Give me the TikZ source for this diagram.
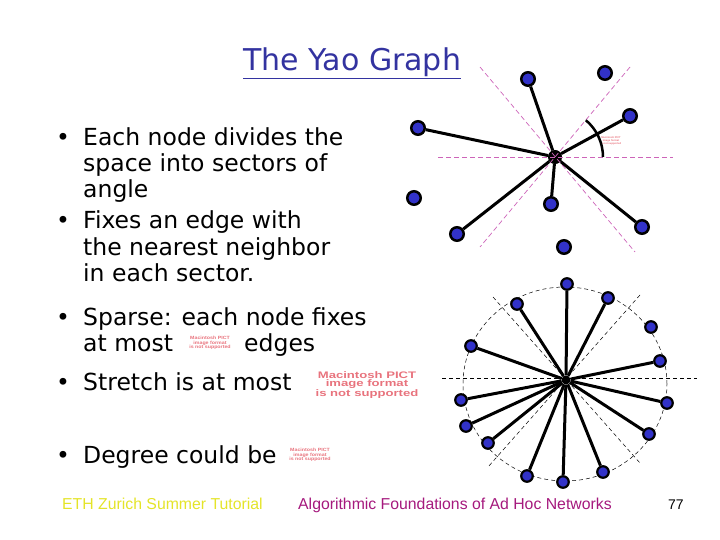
\documentclass[tikz,border=0pt]{standalone}
\usepackage{fontspec}
\setmainfont{DejaVu Sans}
\newfontfamily\footfont{Liberation Sans}
\newfontfamily\pictfont{Liberation Sans}
\definecolor{titleblue}{RGB}{51,51,160}
\definecolor{nodeblue}{RGB}{50,50,200}
\definecolor{dashpink}{RGB}{205,100,185}
\definecolor{pictpink}{RGB}{232,115,125}
\definecolor{footyellow}{RGB}{228,228,40}
\definecolor{footmag}{RGB}{165,25,125}
\pgfdeclarelayer{bg}
\pgfsetlayers{bg,main}
\begin{document}
\begin{tikzpicture}[x=1pt,y=-1pt,
  line/.style={anchor=base west, inner sep=0pt, font=\fontsize{23.5}{26}\selectfont},
  vtx/.style={circle, draw=black, line width=2.5pt, fill=nodeblue, minimum size=13.5pt, inner sep=0pt},
  svtx/.style={circle, draw=black, line width=2.2pt, fill=nodeblue, minimum size=11.5pt, inner sep=0pt},
  hub/.style={circle, draw=black, line width=1pt, fill=black, minimum size=13pt, inner sep=0pt},
  shub/.style={circle, fill=black, minimum size=9pt, inner sep=0pt},
  yedge/.style={line width=3pt},
  pinkdash/.style={dashpink, line width=0.7pt, dash pattern=on 5pt off 3pt},
  blackdash/.style={black, line width=0.5pt, dash pattern=on 4pt off 3pt},
  pict/.style={pictpink, align=center, inner sep=0pt, font=\pictfont\bfseries},
  foot/.style={anchor=base west, inner sep=0pt, font=\footfont\fontsize{15.8}{18}\selectfont}
]
\useasboundingbox (0,0) rectangle (720,540);

% title
\node[anchor=base west, inner sep=0pt, text=titleblue, font=\fontsize{30}{34}\selectfont] (title) at (243,71) {\underline{The Yao Graph}};

% bullets
\node[line] (b1) at (56,146) {•};
\node[line] (l1) at (83,146) {Each node divides the};
\node[line] (l2) at (83,172) {space into sectors of};
\node[line] (l3) at (83,198) {angle};
\node[line] (b2) at (56,229) {•};
\node[line] (l4) at (83,229) {Fixes an edge with};
\node[line] (l5) at (83,255) {the nearest neighbor};
\node[line] (l6) at (83,281) {in each sector.};
\node[line] (b3) at (56,325) {•};
\node[line] (l7) at (83,325) {Sparse: each node fixes};
\node[line] (l8) at (83,351) {at most};
\node[line] (l8b) at (244,351) {edges};
\node[line] (b4) at (56,390) {•};
\node[line] (l9) at (83,390) {Stretch is at most};
\node[line] (b5) at (56,463) {•};
\node[line] (l10) at (83,463) {Degree could be};

% placeholder texts
\node[pict, font=\pictfont\bfseries\fontsize{4.6}{4.6}\selectfont, xscale=1.15, transform shape] (p1) at (210,343) {Macintosh PICT\\image format\\is not supported};
\node[pict, font=\pictfont\bfseries\fontsize{9.5}{8.2}\selectfont, xscale=1.38, transform shape] (p2) at (367,385) {Macintosh PICT\\image format\\is not supported};
\node[pict, font=\pictfont\bfseries\fontsize{4.6}{4.6}\selectfont, xscale=1.15, transform shape] (p3) at (310,455) {Macintosh PICT\\image format\\is not supported};
\node[pict, font=\pictfont\bfseries\fontsize{2.6}{3}\selectfont] (p4) at (611,141) {Macintosh PICT\\image format\\is not supported};

% ---------- top Yao graph ----------
\node[hub] (c) at (555,157) {};
\node[vtx] (t1) at (528,79) {};
\node[vtx] (t2) at (605,73) {};
\node[vtx] (t3) at (418,128) {};
\node[vtx] (t4) at (630,116) {};
\node[vtx] (t5) at (414,198) {};
\node[vtx] (t6) at (551,204) {};
\node[vtx] (t7) at (457,234) {};
\node[vtx] (t8) at (642,227) {};
\node[vtx] (t9) at (564,247) {};
\begin{pgfonlayer}{bg}
\foreach \n in {t1,t3,t4,t6,t7,t8} \draw[yedge] (c) -- (\n);
\end{pgfonlayer}
\coordinate (hL) at (438,157);
\coordinate (hR) at (673,157);
\coordinate (d1a) at (480,67);
\coordinate (d1b) at (635,252);
\coordinate (d2a) at (630,67);
\coordinate (d2b) at (480,247);
\draw[pinkdash] (hL) -- (hR);
\draw[pinkdash] (d1a) -- (d1b);
\draw[pinkdash] (d2a) -- (d2b);
\draw[line width=2.5pt] (603,157) arc[start angle=0, end angle=50, radius=48pt];

% ---------- bottom graph ----------
\node[shub] (C) at (566,380) {};
\node[svtx] (s1) at (567,284) {};
\node[svtx] (s2) at (608,298) {};
\node[svtx] (s3) at (517,304) {};
\node[svtx] (s4) at (651,327) {};
\node[svtx] (s5) at (471,346) {};
\node[svtx] (s6) at (660,361) {};
\node[svtx] (s7) at (461,400) {};
\node[svtx] (s8) at (667,403) {};
\node[svtx] (s9) at (466,426) {};
\node[svtx] (s10) at (649,434) {};
\node[svtx] (s11) at (488,443) {};
\node[svtx] (s12) at (603,472) {};
\node[svtx] (s13) at (527,476) {};
\node[svtx] (s14) at (563,482) {};
\coordinate (H1) at (442,378);
\coordinate (H2) at (697,378);
\coordinate (D1) at (493,297);
\coordinate (D2) at (640,463);
\coordinate (E1) at (640,295);
\coordinate (E2) at (488,467);
\begin{pgfonlayer}{bg}
\draw[blackdash] (565,384) ellipse[x radius=102pt, y radius=97pt];
\draw[blackdash] (H1) -- (H2);
\draw[blackdash] (D1) -- (D2);
\draw[blackdash] (E1) -- (E2);
\foreach \n in {s1,s2,s3,s5,s6,s7,s8,s9,s10,s11,s12,s13,s14} \draw[yedge] (C) -- (\n);
\end{pgfonlayer}

% footer
\node[foot, text=footyellow] (f1) at (62,509) {ETH Zurich Summer Tutorial};
\node[foot, text=footmag] (f2) at (298,509) {Algorithmic Foundations of Ad Hoc Networks};
\node[foot, text=black, font=\footfont\fontsize{14}{16}\selectfont] (f3) at (668,509) {77};
\end{tikzpicture}
\end{document}
